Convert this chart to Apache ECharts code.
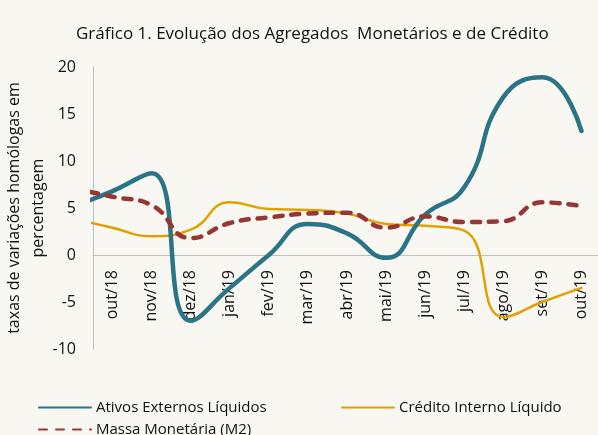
<!DOCTYPE html>
<html>
<head>
<meta charset="utf-8">
<script src="https://cdn.jsdelivr.net/npm/echarts@6/dist/echarts.min.js"></script>
<style>
html,body{margin:0;padding:0;background:#F8F7F2;}
#c{width:598px;height:435px;}
</style>
</head>
<body>
<div id="c"></div>
<script>
// Categories (the first value of each series belongs to the hidden month before out/18,
// which lies left of the visible plot and is clipped by it)
var categories = ['out/18','nov/18','dez/18','jan/19','fev/19','mar/19','abr/19','mai/19','jun/19','jul/19','ago/19','set/19','out/19'];
var hiddenPrev = 'set/18';
var ativosExternos = [5.2, 6.8, 8.7, -7.0, -3.5, 0.0, 3.3, 2.3, -0.3, 4.3, 7.2, 16.8, 18.9, 13.2];
var creditoInterno = [3.9, 2.9, 2.0, 2.7, 5.6, 4.9, 4.8, 4.4, 3.3, 3.1, 2.6, -6.6, -5.0, -3.5];
var massaMonetaria = [7.1, 6.2, 5.3, 1.8, 3.4, 4.0, 4.4, 4.5, 2.9, 4.1, 3.5, 3.6, 5.6, 5.2];
var yTicks = [-10, -5, 0, 5, 10, 15, 20];

function pairs(arr){ return arr.map(function(v,i){ return [i, v]; }); }

var FONT = 'Open Sans';
var TXT = '#111111';
var GRID_TOP = 67, GRID_BOTTOM = 86, H = 435;
var yMin = yTicks[0], yMax = yTicks[yTicks.length - 1];
var gridH = H - GRID_TOP - GRID_BOTTOM;
// move the category axis up so that it sits on the value 0 of the y axis
var zeroOffset = -(0 - yMin) / (yMax - yMin) * gridH;

var chart = echarts.init(document.getElementById('c'));
chart.setOption({
  backgroundColor: '#F8F7F2',
  animation: false,
  title: {
    text: 'Gráfico 1. Evolução dos Agregados  Monetários e de Crédito',
    left: 71, top: 21,
    textStyle: { fontFamily: FONT, fontSize: 17, fontWeight: 'normal', color: TXT }
  },
  legend: [
    { data: ['Ativos Externos Líquidos'], left: 38, top: 400, padding: 0, itemWidth: 52, itemHeight: 14,
      itemStyle: { opacity: 0 }, textStyle: { fontFamily: FONT, fontSize: 15, color: TXT } },
    { data: ['Crédito Interno Líquido'], left: 341, top: 400, padding: 0, itemWidth: 52, itemHeight: 14,
      itemStyle: { opacity: 0 }, textStyle: { fontFamily: FONT, fontSize: 15, color: TXT } },
    { data: ['Massa Monetária (M2)'], left: 38, top: 422, padding: 0, itemWidth: 52, itemHeight: 14,
      itemStyle: { opacity: 0 }, textStyle: { fontFamily: FONT, fontSize: 15, color: TXT } }
  ],
  grid: { left: 93, top: GRID_TOP, right: -3, bottom: GRID_BOTTOM, containLabel: false, outerBoundsMode: 'none' },
  xAxis: [
    { type: 'category', data: categories, boundaryGap: true, position: 'bottom', offset: zeroOffset,
      axisLine: { show: true, onZero: false, lineStyle: { color: '#BFBFBF', width: 1 } },
      axisTick: { show: false },
      axisLabel: { rotate: 90, margin: 15, interval: 0, fontFamily: FONT, fontSize: 16, color: TXT } },
    { type: 'value', min: 0.5, max: 13.5, show: false, position: 'top',
      axisLine: { onZero: false } }
  ],
  yAxis: {
    type: 'value', min: yMin, max: yMax, interval: 5,
    name: 'taxas de variações homólogas em\npercentagem',
    nameLocation: 'middle', nameRotate: 90, nameGap: 43, nameMoveOverlap: false,
    nameTextStyle: { fontFamily: FONT, fontSize: 16, color: TXT, lineHeight: 24, align: 'center' },
    axisLine: { show: true, onZero: false, lineStyle: { color: '#BFBFBF', width: 1 } },
    axisTick: { show: false },
    splitLine: { show: false },
    axisLabel: { margin: 17, fontFamily: FONT, fontSize: 16, color: TXT,
      formatter: function(v){ return yTicks.indexOf(v) >= 0 ? String(v) : ''; } }
  },
  series: [
    { name: 'Ativos Externos Líquidos', type: 'line', xAxisIndex: 1, data: pairs(ativosExternos),
      smooth: 0.5, symbol: 'none', clip: true, color: '#2B7487',
      lineStyle: { color: '#2B7487', width: 4.5, cap: 'round', join: 'round' }, z: 3 },
    { name: 'Crédito Interno Líquido', type: 'line', xAxisIndex: 1, data: pairs(creditoInterno),
      smooth: 0.5, symbol: 'none', clip: true, color: '#E0A000',
      lineStyle: { color: '#E0A000', width: 2.5, cap: 'round', join: 'round' }, z: 2 },
    { name: 'Massa Monetária (M2)', type: 'line', xAxisIndex: 1, data: pairs(massaMonetaria),
      smooth: 0.5, symbol: 'none', clip: true, color: '#953735',
      lineStyle: { color: '#953735', width: 4.5, type: [8, 9], cap: 'round', join: 'round' }, z: 4 }
  ]
});
</script>
</body>
</html>
